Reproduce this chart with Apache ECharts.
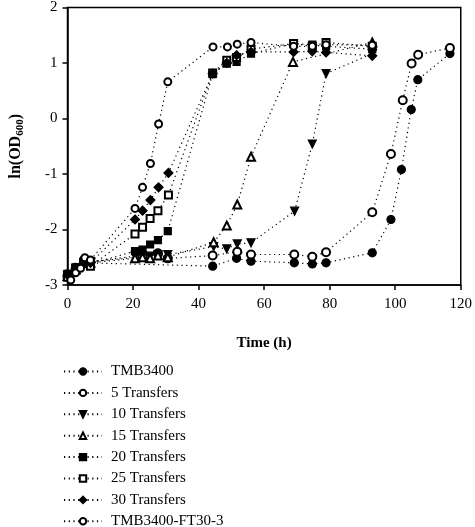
<!DOCTYPE html>
<html>
<head>
<meta charset="utf-8">
<script src="https://cdn.jsdelivr.net/npm/echarts@6/dist/echarts.min.js"></script>
<style>html,body{margin:0;padding:0;background:#fff}#c{width:475px;height:527px}</style>
</head>
<body>
<div id="c"></div>
<script>
const seriesNames = ['TMB3400','5 Transfers','10 Transfers','15 Transfers','20 Transfers','25 Transfers','30 Transfers','TMB3400-FT30-3'];
const xTicks = [0,20,40,60,80,100,120];
const yTicks = [-3,-2,-1,0,1,2];

const tmb3400 = [[0,-2.8],[2.5,-2.68],[5,-2.6],[44.3,-2.66],[51.6,-2.52],[56,-2.57],[69.2,-2.6],[74.7,-2.62],[78.9,-2.6],[93,-2.42],[98.7,-1.82],[101.9,-0.92],[104.9,0.16],[106.9,0.7],[116.7,1.17]];
const t5 = [[0,-2.85],[2.5,-2.72],[5,-2.55],[7,-2.58],[22.9,-2.49],[27.6,-2.43],[30.6,-2.52],[44.3,-2.47],[51.8,-2.4],[56,-2.45],[69.2,-2.45],[74.7,-2.49],[78.9,-2.41],[93,-1.69],[98.7,-0.64],[102.3,0.33],[105,0.99],[107,1.15],[116.7,1.27]];
const t10 = [[0,-2.82],[2.5,-2.7],[5,-2.6],[7,-2.58],[20.6,-2.48],[22.9,-2.47],[25.2,-2.48],[27.6,-2.45],[30.6,-2.45],[44.6,-2.31],[48.6,-2.35],[51.8,-2.26],[56,-2.24],[69.3,-1.67],[74.7,-0.46],[78.9,0.81],[93,1.17]];
const t15 = [[0,-2.84],[2.5,-2.72],[5,-2.58],[7,-2.6],[20.6,-2.52],[22.9,-2.5],[25.2,-2.52],[27.6,-2.47],[30.6,-2.5],[44.6,-2.23],[48.6,-1.93],[51.8,-1.55],[56,-0.69],[68.8,1.02],[93,1.37]];
const t20 = [[0,-2.8],[2.5,-2.68],[5,-2.62],[7,-2.62],[20.6,-2.39],[22.9,-2.36],[25.2,-2.27],[27.6,-2.19],[30.6,-2.03],[44.3,0.8],[48.6,0.99],[51.6,1.02],[56,1.17],[69,1.35],[74.7,1.33],[78.9,1.3],[93,1.25]];
const t25 = [[0,-2.86],[2.5,-2.72],[5,-2.6],[7,-2.66],[20.6,-2.08],[22.9,-1.96],[25.2,-1.8],[27.6,-1.66],[30.8,-1.38],[44.3,0.82],[48.6,1.05],[51.6,1.1],[56,1.25],[69,1.35],[74.7,1.3],[78.9,1.37],[93,1.3]];
const t30 = [[0,-2.82],[2.5,-2.7],[5,-2.6],[7,-2.6],[20.6,-1.82],[22.9,-1.66],[25.3,-1.47],[27.8,-1.24],[30.8,-0.98],[44.3,0.81],[48.6,1.0],[51.6,1.14],[56,1.2],[69,1.2],[74.7,1.21],[78.9,1.19],[93,1.13]];
const ft30 = [[1,-2.91],[2.5,-2.78],[4,-2.7],[5.3,-2.51],[7,-2.55],[20.6,-1.62],[22.9,-1.24],[25.3,-0.81],[27.8,-0.1],[30.6,0.66],[44.4,1.29],[48.8,1.29],[51.8,1.34],[56,1.37],[69,1.3],[74.7,1.3],[78.9,1.33],[93,1.32]];

const dataSets = [tmb3400,t5,t10,t15,t20,t25,t30,ft30];
const symbols = ['circle','emptyCircle','triangle','emptyTriangle','rect','emptyRect','diamond','emptyCircle'];
const rotates = [0,0,180,0,0,0,0,0];
const sizes = [8,8,8,8,7,7,9,7];

const FONT = 'Liberation Serif';
const chart = echarts.init(document.getElementById('c'), null, {renderer:'canvas'});
const series = dataSets.map((d,i)=>({
  name: seriesNames[i],
  type: 'line',
  data: d,
  symbol: symbols[i],
  symbolRotate: rotates[i],
  symbolSize: sizes[i],
  showAllSymbol: true,
  animation: false,
  lineStyle: {color:'#000', width:1.2, type:[1.2,3.5]},
  itemStyle: {color:'#000', borderColor:'#000', borderWidth:1.2}
}));

chart.setOption({
  backgroundColor:'#fff',
  animation:false,
  grid:{left:63, right:13, top:5, bottom:242, show:true, borderColor:'#000', borderWidth:1.5, backgroundColor:'transparent'},
  xAxis:{
    type:'value', min:0, max:120, interval:20,
    name:'Time (h)', nameLocation:'middle', nameGap:51,
    nameTextStyle:{fontFamily:FONT, fontWeight:'bold', fontSize:15, color:'#000'},
    axisLine:{onZero:false, lineStyle:{color:'#000', width:1.5}},
    axisTick:{show:true, length:5, lineStyle:{color:'#000', width:1.5}},
    axisLabel:{fontFamily:FONT, fontSize:15, color:'#000', margin:12,
      formatter:v=> xTicks.includes(v) ? String(v) : ''},
    splitLine:{show:false}
  },
  yAxis:{
    type:'value', min:-3, max:2, interval:1,
    name:'{a|ln(OD}{s|600}{a|)}', nameLocation:'middle', nameGap:42, nameRotate:90,
    nameTextStyle:{fontFamily:FONT, fontWeight:'bold', fontSize:16, color:'#000',
      rich:{a:{fontFamily:FONT, fontWeight:'bold', fontSize:16, color:'#000'},
            s:{fontFamily:FONT, fontWeight:'bold', fontSize:11, color:'#000', verticalAlign:'bottom', padding:[8,0,0,0]}}},
    axisLine:{show:true, onZero:false, lineStyle:{color:'#000', width:1.5}},
    axisTick:{show:true, length:5, lineStyle:{color:'#000', width:1.5}},
    axisLabel:{fontFamily:FONT, fontSize:15, color:'#000', margin:10,
      formatter:v=> yTicks.includes(v) ? String(v) : ''},
    splitLine:{show:false}
  },
  legend:{
    orient:'vertical', left:58, top:359, height:170,
    itemWidth:38, itemHeight:8, itemGap:6.4,
    textStyle:{fontFamily:FONT, fontSize:15, color:'#000', padding:[0,0,0,4]},
    data:seriesNames
  },
  series:series
});
</script>
</body>
</html>
